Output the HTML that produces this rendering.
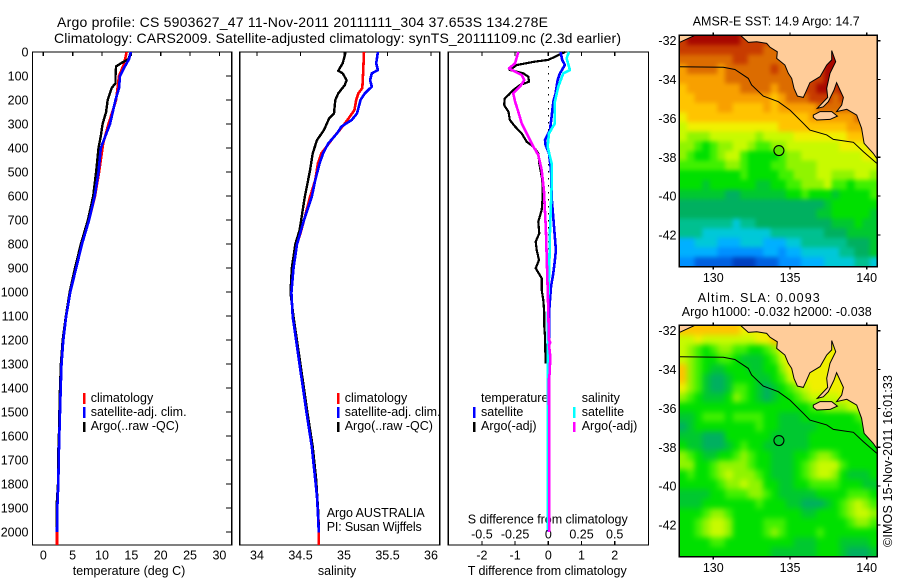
<!DOCTYPE html>
<html>
<head>
<meta charset="utf-8">
<title>Argo profile</title>
<style>
html,body{margin:0;padding:0;background:#fff;width:900px;height:580px;overflow:hidden}
svg{display:block}
text{font-family:"Liberation Sans",sans-serif;font-size:12.5px;fill:#000}
.title{font-size:14px}
</style>
</head>
<body>
<svg id="chart" xmlns="http://www.w3.org/2000/svg" width="900" height="580" viewBox="0 0 900 580">
  <text class="title" x="57" y="27" textLength="491">Argo profile: CS 5903627_47 11-Nov-2011 20111111_304 37.653S 134.278E</text>
  <text class="title" x="54" y="43" textLength="567">Climatology: CARS2009. Satellite-adjusted climatology: synTS_20111109.nc (2.3d earlier)</text>

  <text x="90.7" y="402">climatology</text>
  <text x="90.7" y="416">satellite-adj. clim.</text>
  <text x="90.7" y="430">Argo(..raw -QC)</text>
  <text x="344.7" y="402">climatology</text>
  <text x="344.7" y="416">satellite-adj. clim.</text>
  <text x="344.7" y="430">Argo(..raw -QC)</text>
  <text x="326.7" y="517" textLength="98">Argo AUSTRALIA</text>
  <text x="326.7" y="531" textLength="95">PI: Susan Wijffels</text>
  <text x="481" y="402">temperature</text>
  <text x="481" y="416">satellite</text>
  <text x="481" y="430">Argo(-adj)</text>
  <text x="581.7" y="402">salinity</text>
  <text x="581.7" y="416">satellite</text>
  <text x="581.7" y="430">Argo(-adj)</text>

  <text x="129" y="575" text-anchor="middle">temperature (deg C)</text>
  <text x="337" y="575" text-anchor="middle">salinity</text>
  <text x="467.7" y="575" textLength="159">T difference from climatology</text>
  <text x="467.7" y="523.5" textLength="160">S difference from climatology</text>

  <text x="692.7" y="25.5" textLength="167">AMSR-E SST: 14.9 Argo: 14.7</text>
  <text x="697.7" y="302" textLength="122">Altim. SLA: 0.0093</text>
  <text x="681.7" y="316" textLength="190">Argo h1000: -0.032 h2000: -0.038</text>
  <text transform="translate(892,547) rotate(-90)" textLength="172">©IMOS 15-Nov-2011 16:01:33</text>
</svg>
<script>
// ---------- profile axes data ----------
const depthTicks = [0,100,200,300,400,500,600,700,800,900,1000,1100,1200,1300,1400,1500,1600,1700,1800,1900,2000];
const tempTicks = [0,5,10,15,20,25,30];
const salTicks = [34,34.5,35,35.5,36];
const tDiffTicks = [-2,-1,0,1,2];
const sDiffTicks = [-0.5,-0.25,0,0.25,0.5];
const sDiffLabels = ['-0.5','-0.25','0','0.25','0.5'];
const lonTicks = [130,135,140];
const latTicks = [-32,-34,-36,-38,-40,-42];

// ---------- temperature profiles ----------
const tempClimDepth = [0,50,100,200,300,380,500,600,700,800,900,1000,1100,1200,1300,1400,1500,1600,1700,1800,1900,2000,2054];
const tempClimValue = [14.2,13.75,12.9,12.4,11.1,10.2,9.5,8.8,7.8,6.6,5.6,4.6,3.9,3.4,3.1,2.96,2.85,2.73,2.62,2.56,2.39,2.33,2.33];
const tempSatDepth = [0,30,60,100,150,200,300,400,500,600,700,800,900,1000,1100,1200,1300,1400,1500,1600,1700,1800,1900,2000];
const tempSatValue = [14.9,14.6,13.9,13.07,12.9,12.3,11.36,9.8,9.4,8.75,7.8,6.6,5.6,4.6,3.9,3.4,3.1,2.96,2.85,2.73,2.62,2.56,2.39,2.33];
const tempArgoDepth = [0,30,45,60,100,130,150,200,250,300,350,400,500,600,700,800,900,1000,1100,1200,1300,1400,1500,1600,1700,1800,1900,1985];
const tempArgoValue = [14.9,14.5,13.35,12.4,12.3,12.3,11.65,10.97,10.7,10.1,9.8,9.4,9,8.5,7.6,6.4,5.4,4.5,3.85,3.3,3,2.85,2.75,2.65,2.5,2.5,2.25,2.25];

// ---------- salinity profiles ----------
const salClimDepth = [0,89,151,172,200,242,283,325,353,394,422,464,533,603,742,801,901,1003,1103,1203,1303,1403,1505,1644,1783,1922,2003,2054];
const salClimValue = [35.23,35.22,35.21,35.165,35.14,35.12,35.04,34.95,34.885,34.8,34.74,34.7,34.67,34.61,34.51,34.46,34.42,34.395,34.41,34.455,34.495,34.535,34.575,34.635,34.675,34.705,34.71,34.71];
const salSatDepth = [0,47,75,89,117,144,172,200,228,256,283,311,339,381,422,464,533,603,700,801,901,1003,1103,1203,1303,1403,1505,1575,1644,1714,1783,1853,1922,2003];
const salSatValue = [35.39,35.37,35.39,35.32,35.3,35.32,35.24,35.19,35.17,35.15,35.09,34.97,34.92,34.82,34.76,34.72,34.67,34.63,34.54,34.46,34.42,34.395,34.41,34.45,34.49,34.53,34.57,34.6,34.63,34.65,34.67,34.69,34.7,34.71];
const salArgoDepth = [0,47,78,89,117,137,172,200,256,276,325,367,422,492,603,742,801,901,1003,1103,1203,1303,1403,1505,1644,1783,1922,1990];
const salArgoValue = [35.02,34.985,34.935,34.985,35.03,35.01,34.935,34.9,34.885,34.83,34.77,34.69,34.64,34.61,34.55,34.49,34.44,34.4,34.385,34.42,34.46,34.5,34.54,34.58,34.64,34.68,34.705,34.71];

// ---------- difference profiles ----------
const tDiffArgoDepth = [0,33,40,54,75,82,89,103,124,137,158,179,193,221,249,283,311,339,374,394,422,464,533,603,658,707,742,756,790,825,867,901,943,992,1033,1089,1144,1186,1297];
const tDiffArgoValue = [0.5,0,-0.4,-0.95,-1.16,-0.95,-0.75,-0.6,-0.58,-0.85,-1.05,-1.2,-1.31,-1.33,-1.2,-1.16,-1,-0.8,-0.65,-0.45,-0.3,-0.27,-0.18,-0.17,-0.2,-0.3,-0.28,-0.27,-0.38,-0.35,-0.28,-0.38,-0.2,-0.2,-0.15,-0.12,-0.12,-0.1,-0.08];
const tDiffSatDepth = [0,33,54,89,117,172,207,269,325,367,388,422,492,603,742,825,867,922,978,1033,1075,1200,2000];
const tDiffSatValue = [0.37,0.42,0.5,0.35,0.28,0.22,0.15,0.1,0.05,-0.1,-0.08,0.02,0.08,0.1,0.18,0.23,0.2,0.15,0.08,0.05,0.03,0.02,0.02];
const sDiffSatDepth = [0,26,75,89,144,207,297,339,394,464,561,742,894,1033,1172,1992];
const sDiffSatValue = [0.156,0.138,0.163,0.113,0.075,0.05,0.05,0.005,-0.005,0.025,0.025,0.0125,0.0075,0,-0.005,-0.005];
const sDiffArgoDepth = [0,47,68,82,96,117,144,172,207,242,297,339,394,429,492,575,742,894,1033,1200,1210,1220,1270,1340,1360,2000];
const sDiffArgoValue = [-0.226,-0.25,-0.296,-0.25,-0.2,-0.18,-0.213,-0.264,-0.25,-0.23,-0.2,-0.163,-0.113,-0.075,-0.05,-0.033,-0.018,-0.01,-0.0025,0.005,0.015,0.005,0.015,0.01,0.005,0.0075];

// ---------- map colour levels (index into levelColors) ----------
const levelColors = ['#0040c0','#0060e0','#0090ff','#00b0ff','#00c8d8','#00c090','#00b060','#00c830','#00e000','#40f000','#90f400','#c8fa00','#f0f000','#ffc400','#f8a000','#dc6c00','#c83c00','#a80800'];
const sstLevels = [
[16,17,17,17,17,17,17,17,16,16,16,16,16,16,16,16,16,16,16,16,16,16,16,16,16,16],
[16,16,16,16,16,16,16,16,16,16,16,15,15,15,15,15,15,15,15,15,17,17,16,16,16,16],
[15,15,15,15,15,15,15,16,16,15,15,15,15,15,15,15,15,15,15,17,17,17,16,16,16,16],
[14,15,15,15,15,14,15,15,15,15,15,15,16,15,15,15,15,15,16,17,17,16,16,16,16,16],
[14,14,14,14,14,14,15,15,15,15,15,15,15,15,15,15,15,16,16,17,17,16,16,16,16,16],
[13,14,14,14,14,14,14,14,15,15,15,15,14,15,15,15,16,16,17,17,16,17,16,16,16,16],
[13,13,14,14,14,14,14,14,14,14,14,14,13,14,15,15,15,16,16,16,15,16,16,16,16,16],
[13,13,13,13,13,14,14,13,13,13,13,14,13,14,14,14,14,14,15,15,15,15,15,16,16,16],
[12,13,13,13,13,13,13,13,13,13,13,13,13,13,13,13,13,14,14,14,14,14,14,15,15,15],
[11,12,12,12,12,12,12,12,12,12,12,12,12,13,13,13,13,13,13,13,13,13,14,14,14,14],
[11,10,10,10,11,11,11,11,11,11,10,11,11,11,11,12,12,12,12,12,12,12,13,13,13,13],
[10,10,9,8,9,10,10,11,11,10,9,9,10,10,11,11,11,11,11,11,11,12,12,12,12,13],
[10,9,8,8,9,10,11,11,9,8,8,8,8,9,10,10,11,11,11,11,11,11,11,11,12,12],
[9,9,9,9,9,9,10,10,9,8,8,8,9,9,10,10,10,10,11,11,11,11,11,11,11,11],
[8,8,8,8,8,8,8,8,9,8,8,8,8,9,9,10,10,10,11,11,10,10,10,11,11,10],
[8,8,8,7,8,8,8,8,8,8,7,7,8,8,9,9,10,10,10,11,9,9,8,9,9,9],
[7,7,7,7,7,7,6,6,7,7,7,7,7,7,8,8,9,8,8,8,7,8,8,8,8,9],
[6,6,6,6,6,6,6,6,6,6,6,6,6,6,6,6,6,6,6,7,8,8,8,8,8,8],
[6,6,6,6,6,6,6,6,6,6,6,6,6,6,6,6,6,6,7,7,8,8,8,8,8,7],
[5,5,5,5,5,5,5,4,5,5,6,6,6,6,6,6,6,6,6,6,7,7,7,8,7,7],
[5,5,5,4,4,4,4,4,4,4,4,4,5,5,5,5,5,5,5,6,6,6,7,7,7,7],
[3,3,4,4,4,3,3,3,4,4,4,3,3,3,4,4,5,5,5,5,5,5,6,6,6,7],
[3,3,3,3,3,2,2,2,2,2,2,3,3,2,3,3,4,4,4,4,4,5,5,6,6,7],
[2,2,1,1,1,1,1,0,0,0,1,1,1,2,2,2,3,3,3,4,4,4,4,5,5,4]
];
const slaLevels = [
[13,13,13,13,13,13,13,13,12,12,12,12,12,12,12,12,12,12,12,12,12,12,12,12,12,12],
[11,11,12,11,11,11,11,11,11,11,12,12,13,13,12,12,12,12,12,12,12,12,12,12,12,12],
[11,10,9,8,9,10,10,9,9,8,8,9,10,12,12,12,12,12,12,12,12,12,12,12,12,12],
[11,10,9,8,8,9,9,8,7,7,7,8,9,11,12,12,12,12,12,12,12,12,12,12,12,12],
[13,10,9,8,7,7,8,8,8,7,7,8,8,10,12,12,12,12,12,12,12,12,12,12,12,12],
[13,10,9,7,6,6,7,8,8,8,7,7,8,9,11,12,12,12,12,12,12,12,12,12,12,12],
[12,10,9,7,6,6,7,9,9,8,7,6,7,8,9,10,11,12,12,12,12,12,12,12,12,12],
[10,9,8,7,7,7,8,10,9,8,7,6,7,8,8,9,10,11,11,11,11,12,11,11,11,11],
[8,8,8,8,8,8,8,8,8,8,8,8,8,8,8,8,8,9,9,10,10,10,11,11,11,11],
[7,7,8,9,9,9,8,9,9,9,9,8,8,7,7,7,8,8,8,8,8,8,8,9,10,11],
[6,7,8,8,8,8,8,8,8,8,9,8,8,7,7,7,7,7,8,8,8,8,8,8,9,10],
[7,7,7,6,6,6,8,8,8,8,8,8,7,7,7,7,7,8,8,8,8,8,8,8,8,9],
[8,7,7,6,6,6,7,8,9,8,8,7,7,7,7,7,7,8,8,8,8,8,8,8,8,8],
[10,9,8,7,7,8,8,9,10,9,8,8,7,7,7,8,8,9,10,10,9,8,8,8,8,8],
[10,10,8,8,9,10,10,10,10,9,8,8,7,7,7,8,9,10,11,11,11,9,8,8,8,8],
[8,9,8,8,9,10,11,10,10,10,9,8,7,7,7,8,9,10,11,11,10,8,7,7,7,8],
[8,8,8,8,8,9,10,10,11,10,10,8,8,7,7,8,8,9,9,9,9,8,8,8,7,7],
[7,7,7,7,8,8,9,9,9,10,10,9,8,7,7,7,7,7,8,8,8,8,9,9,9,8],
[7,7,7,8,8,8,8,8,8,8,9,8,8,8,7,7,6,6,6,7,8,9,10,11,10,9],
[8,8,8,9,10,10,9,8,8,8,8,8,8,8,8,8,7,7,8,8,8,9,10,11,11,10],
[8,8,9,10,11,11,10,8,8,8,8,9,9,9,8,8,8,8,8,8,8,8,9,10,10,9],
[8,8,9,10,11,11,10,8,8,8,8,9,10,9,8,8,8,8,9,8,8,8,8,8,8,8],
[8,8,8,8,9,9,8,8,8,8,8,8,8,8,8,7,7,7,8,8,8,7,7,7,7,8],
[8,8,8,8,8,8,8,8,8,8,8,8,7,7,7,7,7,7,8,8,8,7,6,6,6,7]
];

// ---------- geography (degrees) ----------
const mainlandLon = [131.74,132.28,132.83,133.48,133.7,134.17,134.13,134.67,134.89,135.11,135.26,135.48,135.87,136.04,136.3,136.96,137.39,137.72,137.72,137.98,137.61,137.39,137.46,136.78,137.17,137.5,137.87,138.04,138.48,138.37,138.04,138.7,139.35,139.67,139.83,140.43,140.65,140.75,140.75];
const mainlandLat = [-31.7,-32.09,-32.05,-32.14,-32.34,-32.57,-32.91,-33.25,-33.68,-33.94,-34.45,-34.85,-34.92,-34.62,-34.16,-33.85,-33.25,-32.99,-32.51,-33.08,-33.68,-34.45,-34.92,-35.48,-35.4,-35.14,-34.54,-34.16,-34.92,-35.31,-35.65,-35.53,-35.83,-36.51,-37.28,-37.8,-38.05,-38.05,-31.7];
const cornerLandLon = [127.78,128.8,127.78];
const cornerLandLat = [-32.1,-31.72,-31.72];
const islandLon = [136.52,136.96,137.72,138.09,137.61,136.74,136.52];
const islandLat = [-35.83,-35.65,-35.65,-35.88,-36.05,-36.08,-35.95];
const shelfLon = [127.78,130.65,131.41,132.28,132.5,133.26,134.24,135,135.87,136.3,137.39,137.83,139.13,139.78,140.65];
const shelfLat = [-33.34,-33.37,-33.48,-33.94,-34.28,-34.85,-35.14,-35.57,-36.25,-36.6,-36.85,-37.08,-37.23,-37.71,-38.31];
const floatLon = [134.278];
const floatLat = [-37.653];

// ---------- axis functions ----------
const svg = document.getElementById('chart');
const NS = 'http://www.w3.org/2000/svg';
const PANEL_TOP = 52, PANEL_BOTTOM = 545;
const yDepth = d => 52 + 0.24 * d;
const xTemp = t => 43.3 + 5.87 * t;
const xSal = s => 257 + 87 * (s - 34);
const xTDiff = v => 548.3 + 33.2 * v;
const xSDiff = v => 548.3 + 132.8 * v;
const MAP_LEFT = 679.3, MAP_RIGHT = 877.3, MAP_H = 231.4;
const xLon = lon => 713.3 + 15.34 * (lon - 130);
const yLat = (lat, top) => top + 5.4 + 19.43 * (-32 - lat);

function make(tag, attrs, parent) {
  const el = document.createElementNS(NS, tag);
  for (const k in attrs) el.setAttribute(k, attrs[k]);
  (parent || svg).appendChild(el);
  return el;
}
function axisLine(x1, y1, x2, y2) {
  return make('line', {x1: x1, y1: y1, x2: x2, y2: y2, stroke: '#000', 'stroke-width': 1.2, 'shape-rendering': 'crispEdges'});
}
function label(str, x, y, anchor) {
  const t = make('text', {x: x, y: y, 'text-anchor': anchor});
  t.textContent = str;
  return t;
}
function profile(xs, ys, xFn, color, width) {
  const pts = xs.map((v, i) => xFn(v).toFixed(1) + ',' + yDepth(ys[i]).toFixed(1)).join(' ');
  return make('polyline', {points: pts, fill: 'none', stroke: color, 'stroke-width': width, 'stroke-linejoin': 'round', 'shape-rendering': 'crispEdges'});
}
function legendBar(x, y1, y2, color) {
  return make('rect', {x: x - 1.2, y: y1, width: 2.6, height: y2 - y1, fill: color, 'shape-rendering': 'crispEdges'});
}

// ---------- profile panels ----------
const frames = [[32.4, 231.6, 'temperature-panel-frame'], [239.6, 439.8, 'salinity-panel-frame'], [448.4, 648.6, 'difference-panel-frame']];
frames.forEach(f => {
  const r = make('rect', {x: f[0], y: PANEL_TOP, width: f[1] - f[0], height: PANEL_BOTTOM - PANEL_TOP, fill: 'none', stroke: '#000', 'stroke-width': 1.3, 'shape-rendering': 'crispEdges'});
  
  
});

depthTicks.forEach(d => {
  const t = axisLine(226, yDepth(d), 231.6, yDepth(d));
  
  
  const l = label(String(d), 28.5, yDepth(d) + 4.5, 'end');
  
  
});
tempTicks.forEach(v => {
  const t = axisLine(xTemp(v), PANEL_TOP, xTemp(v), PANEL_TOP + 4);
  
  
  const l = label(String(v), xTemp(v), 559.5, 'middle');
  
  
});
salTicks.forEach(v => {
  const t = axisLine(xSal(v), PANEL_TOP, xSal(v), PANEL_TOP + 4);
  
  
  const l = label(String(v), xSal(v), 559.5, 'middle');
  
  
});
tDiffTicks.forEach(v => {
  const t = axisLine(xTDiff(v), PANEL_TOP, xTDiff(v), PANEL_TOP + 4);
  
  
  const l = label(String(v), xTDiff(v), 559.5, 'middle');
  
  
});
sDiffTicks.forEach((v, i) => {
  const t = axisLine(xSDiff(v), PANEL_BOTTOM - 4, xSDiff(v), PANEL_BOTTOM);
  
  
  const l = label(sDiffLabels[i], xSDiff(v), 538.5, 'middle');
  
  
});

// temperature series
let line = profile(tempClimValue, tempClimDepth, xTemp, '#ff0000', 2.6);


line = profile(tempArgoValue, tempArgoDepth, xTemp, '#000000', 2.4);


line = profile(tempSatValue, tempSatDepth, xTemp, '#0000ff', 2.6);



// salinity series
line = profile(salClimValue, salClimDepth, xSal, '#ff0000', 2.6);


line = profile(salArgoValue, salArgoDepth, xSal, '#000000', 2.4);


line = profile(salSatValue, salSatDepth, xSal, '#0000ff', 2.6);



// difference series
const zeroLine = make('line', {x1: xTDiff(0), y1: yDepth(0), x2: xTDiff(0), y2: yDepth(1300), stroke: '#000', 'stroke-width': 1, 'stroke-dasharray': '1.5 5.5', 'shape-rendering': 'crispEdges'});


line = profile(tDiffArgoValue, tDiffArgoDepth, xTDiff, '#000000', 2.2);


line = profile(tDiffSatValue, tDiffSatDepth, xTDiff, '#0000ff', 2.6);


line = profile(sDiffSatValue, sDiffSatDepth, xSDiff, '#00ffff', 2.6);


line = profile(sDiffArgoValue, sDiffArgoDepth, xSDiff, '#ff00ff', 2.6);



// legend swatches
let bar = legendBar(84, 393, 404, '#ff0000');


bar = legendBar(84, 407, 418, '#0000ff');


bar = legendBar(84, 422, 432, '#000000');


bar = legendBar(338, 393, 404, '#ff0000');


bar = legendBar(338, 407, 418, '#0000ff');


bar = legendBar(338, 422, 432, '#000000');


bar = legendBar(474, 407, 418, '#0000ff');


bar = legendBar(474, 422, 432, '#000000');


bar = legendBar(574, 407, 418, '#00ffff');


bar = legendBar(574, 422, 432, '#ff00ff');



// ---------- maps ----------
function pointString(lons, lats, top) {
  return lons.map((v, i) => xLon(v).toFixed(1) + ',' + yLat(lats[i], top).toFixed(1)).join(' ');
}
function drawMap(top, levels, clipId, markerFill, prefix, blur) {
  const clip = make('clipPath', {id: clipId});
  make('rect', {x: MAP_LEFT, y: top, width: MAP_RIGHT - MAP_LEFT, height: MAP_H}, clip);
  const soften = make('filter', {id: clipId + '-soften', x: '-10%', y: '-10%', width: '120%', height: '120%', 'color-interpolation-filters': 'sRGB'});
  make('feGaussianBlur', {stdDeviation: blur}, soften);
  const g = make('g', {'clip-path': 'url(#' + clipId + ')'});
  
  
  const cells = make('g', {filter: 'url(#' + clipId + '-soften)'}, g);
  
  
  const cols = levels[0].length, rows = levels.length;
  const cw = (MAP_RIGHT - MAP_LEFT) / cols, ch = MAP_H / rows;
  const pad = 10; // border cells extend past the clip so softening does not fade the edge
  levels.forEach((row, r) => row.forEach((lvl, c) => {
    const x0 = MAP_LEFT + c * cw - (c === 0 ? pad : 0);
    const x1 = MAP_LEFT + (c + 1) * cw + (c === cols - 1 ? pad : 0.6);
    const y0 = top + r * ch - (r === 0 ? pad : 0);
    const y1 = top + (r + 1) * ch + (r === rows - 1 ? pad : 0.6);
    const cell = make('rect', {x: x0.toFixed(1), y: y0.toFixed(1), width: (x1 - x0).toFixed(1), height: (y1 - y0).toFixed(1), fill: levelColors[lvl]}, cells);
    
    
  }));
  const main = make('polygon', {points: pointString(mainlandLon, mainlandLat, top), fill: '#ffcc99', stroke: '#000', 'stroke-width': 1}, g);
  
  
  const corner = make('polygon', {points: pointString(cornerLandLon, cornerLandLat, top), fill: '#ffcc99', stroke: '#000', 'stroke-width': 1}, g);
  
  
  const island = make('polygon', {points: pointString(islandLon, islandLat, top), fill: '#ffcc99', stroke: '#000', 'stroke-width': 1}, g);
  
  
  const shelf = make('polyline', {points: pointString(shelfLon, shelfLat, top), fill: 'none', stroke: '#000', 'stroke-width': 1}, g);
  
  
  const marker = make('circle', {cx: xLon(floatLon[0]), cy: yLat(floatLat[0], top), r: 5, fill: markerFill, stroke: '#000', 'stroke-width': 1.1});
  
  
  const frame = make('rect', {x: MAP_LEFT, y: top, width: MAP_RIGHT - MAP_LEFT, height: MAP_H, fill: 'none', stroke: '#000', 'stroke-width': 1.2, 'shape-rendering': 'crispEdges'});
  
  
  lonTicks.forEach(v => {
    const t1 = axisLine(xLon(v), top - 3, xLon(v), top);
    
    
    const t2 = axisLine(xLon(v), top + MAP_H, xLon(v), top + MAP_H + 3);
    
    
    const l = label(String(v), xLon(v), top + MAP_H + 15.5, 'middle');
    
    
  });
  latTicks.forEach(v => {
    const t = axisLine(MAP_RIGHT, yLat(v, top), MAP_RIGHT + 3, yLat(v, top));
    
    
    const l = label(String(v), 676.5, yLat(v, top) + 4.5, 'end');
    
    
  });
}
drawMap(35.3, sstLevels, 'clip-sst', '#60e800', 'sst', 2);
drawMap(325.3, slaLevels, 'clip-sla', 'none', 'sla', 3);
</script>
</body>
</html>
